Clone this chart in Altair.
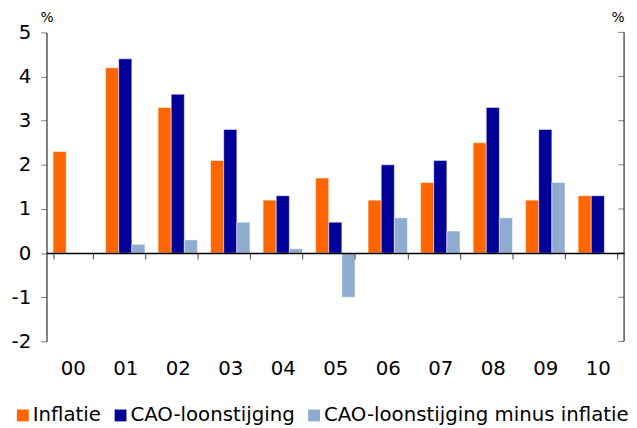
import altair as alt
import pandas as pd

years = ["00", "01", "02", "03", "04", "05", "06", "07", "08", "09", "10"]
inflatie = [2.3, 4.2, 3.3, 2.1, 1.2, 1.7, 1.2, 1.6, 2.5, 1.2, 1.3]
cao = [None, 4.4, 3.6, 2.8, 1.3, 0.7, 2.0, 2.1, 3.3, 2.8, 1.3]
verschil = [None, 0.2, 0.3, 0.7, 0.1, -1.0, 0.8, 0.5, 0.8, 1.6, None]
series = ["Inflatie", "CAO-loonstijging", "CAO-loonstijging minus inflatie"]
colors = ["#FF6600", "#000099", "#8EACD0"]
y_ticks = [-2, -1, 0, 1, 2, 3, 4, 5]

W, H = 585, 313
FONT = "DejaVu Sans"
FS = 20

rows = []
for name, vals in zip(series, [inflatie, cao, verschil]):
    for yr, v in zip(years, vals):
        if v is not None:
            rows.append({"year": yr, "series": name, "value": v})
df = pd.DataFrame(rows)

yscale = alt.Scale(domain=[min(y_ticks), max(y_ticks)], nice=False, zero=False)
yaxis = alt.Axis(values=y_ticks, title="%", titleAngle=0, titleX=0, titleY=-15,
                 titleAlign="center", titleBaseline="middle", titleFontSize=14,
                 titleFontWeight="normal", titleColor="#000000",
                 domainColor="#000000", tickColor="#808080", tickSize=6,
                 labelPadding=10, labelFontSize=FS, labelColor="#000000",
                 labelExpr="'' + datum.value",
                 grid=False, zindex=1)

bars = alt.Chart(df).mark_bar(stroke="#ffffff", strokeOpacity=0.5, strokeWidth=1).encode(
    x=alt.X("year:N", sort=years,
            scale=alt.Scale(paddingInner=0.25, paddingOuter=0.125),
            axis=alt.Axis(title=None, offset=-(H - H * 5 / 7), tickBand="extent",
                          domainColor="#000000", domainWidth=1.5, tickColor="#404040",
                          tickSize=6, labelPadding=111, labelBaseline="middle",
                          labelFontSize=FS, labelColor="#000000", labelAngle=0,
                          zindex=1)),
    xOffset=alt.XOffset("series:N", sort=series, scale=alt.Scale(domain=series)),
    y=alt.Y("value:Q", scale=yscale, axis=yaxis),
    color=alt.Color("series:N", sort=series,
                    scale=alt.Scale(domain=series, range=colors),
                    legend=alt.Legend(title=None, orient="none", direction="horizontal",
                                      legendX=-34, legendY=378, symbolType="square",
                                      symbolSize=144, symbolStrokeWidth=0,
                                      labelFontSize=FS, labelColor="#000000",
                                      labelLimit=500,
                                      labelOffset=0, columnPadding=9, padding=0)),
)

tick_df = pd.DataFrame({"v": y_ticks})
right_ticks = alt.Chart(tick_df).mark_rule(color="#808080").encode(
    y=alt.Y("v:Q", scale=yscale, axis=yaxis),
    x=alt.value(W - 6), x2=alt.value(W),
)
right_line = alt.Chart(pd.DataFrame({"a": [0]})).mark_rule(color="#000000").encode(
    x=alt.value(W), y=alt.value(0), y2=alt.value(H),
)
right_pct = alt.Chart(pd.DataFrame({"a": [0]})).mark_text(
    text="%", fontSize=14, font=FONT, color="#000000", align="center", baseline="middle"
).encode(x=alt.value(W - 6), y=alt.value(-15))

chart = alt.layer(bars, right_ticks, right_line, right_pct).properties(
    width=W, height=H,
    autosize=alt.AutoSizeParams(type="none"),
    padding={"left": 39, "top": 22, "right": 5, "bottom": 84},
).configure_view(stroke=None).configure_axis(
    labelFont=FONT, titleFont=FONT
).configure_legend(labelFont=FONT)

chart.save("out.html", embed_options={"renderer": "svg", "actions": False})
